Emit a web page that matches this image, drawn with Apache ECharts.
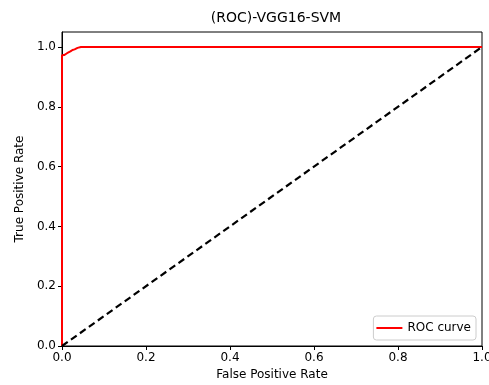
<!DOCTYPE html>
<html>
<head>
<meta charset="utf-8">
<script src="https://cdn.jsdelivr.net/npm/echarts@6/dist/echarts.min.js"></script>
<style>
  html, body { margin: 0; padding: 0; background: #fff; }
  #chart { width: 489px; height: 385px; }
</style>
</head>
<body>
<div id="chart"></div>
<script>
const fpr = [0, 0, 0.005, 0.008, 0.012, 0.016, 0.02, 0.025, 0.03, 0.037, 0.045, 1.0];
const tpr = [0, 0.972, 0.973, 0.978, 0.979, 0.984, 0.985, 0.99, 0.992, 0.997, 1.0, 1.0];
const chance = [0, 1];
const ticks = [0, 0.2, 0.4, 0.6, 0.8, 1.0];

const font = 'DejaVu Sans';
const chart = echarts.init(document.getElementById('chart'));

const axisCommon = {
  type: 'value',
  interval: 0.2,
  axisLine: { show: true, onZero: false, lineStyle: { color: '#000', width: 1 } },
  axisTick: { show: true, inside: false, length: 4, lineStyle: { color: '#000' } },
  splitLine: { show: false },
  axisLabel: {
    color: '#000',
    fontFamily: font,
    fontSize: 12,
    margin: 6,
    formatter: (v) => (ticks.some((t) => Math.abs(t - v) < 1e-6) ? v.toFixed(1) : ''),
  },
  nameLocation: 'middle',
  nameTextStyle: { color: '#000', fontFamily: font, fontSize: 12 },
};

chart.setOption({
  animation: false,
  title: {
    text: '(ROC)-VGG16-SVM',
    left: 271,
    textAlign: 'center',
    top: 6,
    textStyle: { fontFamily: font, fontSize: 14, fontWeight: 'normal', color: '#000' },
  },
  grid: {
    left: 62, right: 7, top: 32, bottom: 39,
    containLabel: false,
    outerBoundsMode: 'none',
    show: true, borderColor: '#000', borderWidth: 1,
  },
  legend: {
    right: 13,
    bottom: 45,
    data: ['ROC curve'],
    itemWidth: 26,
    itemHeight: 2,
    icon: 'rect',
    padding: [6, 5, 6, 3],
    borderColor: '#ccc',
    borderWidth: 1,
    borderRadius: 3,
    backgroundColor: 'rgba(255,255,255,0.8)',
    textStyle: { fontFamily: font, fontSize: 12, color: '#000' },
  },
  xAxis: {
    ...axisCommon,
    min: 0,
    max: 1,
    axisLabel: { ...axisCommon.axisLabel, showMaxLabel: true },
    name: 'False Positive Rate',
    nameGap: 22,
  },
  yAxis: {
    ...axisCommon,
    min: 0,
    max: 1.05,
    axisLabel: { ...axisCommon.axisLabel, showMaxLabel: false },
    name: 'True Positive Rate',
    nameGap: 34,
  },
  series: [
    {
      name: 'ROC curve',
      type: 'line',
      data: fpr.map((x, i) => [x, tpr[i]]),
      symbol: 'none',
      lineStyle: { color: '#ff0000', width: 2 },
      itemStyle: { color: '#ff0000' },
      z: 3,
    },
    {
      name: 'chance',
      type: 'line',
      data: chance.map((x) => [x, x]),
      symbol: 'none',
      lineStyle: { color: '#000', width: 2.2, type: [7, 4] },
      z: 4,
    },
  ],
});
</script>
</body>
</html>
